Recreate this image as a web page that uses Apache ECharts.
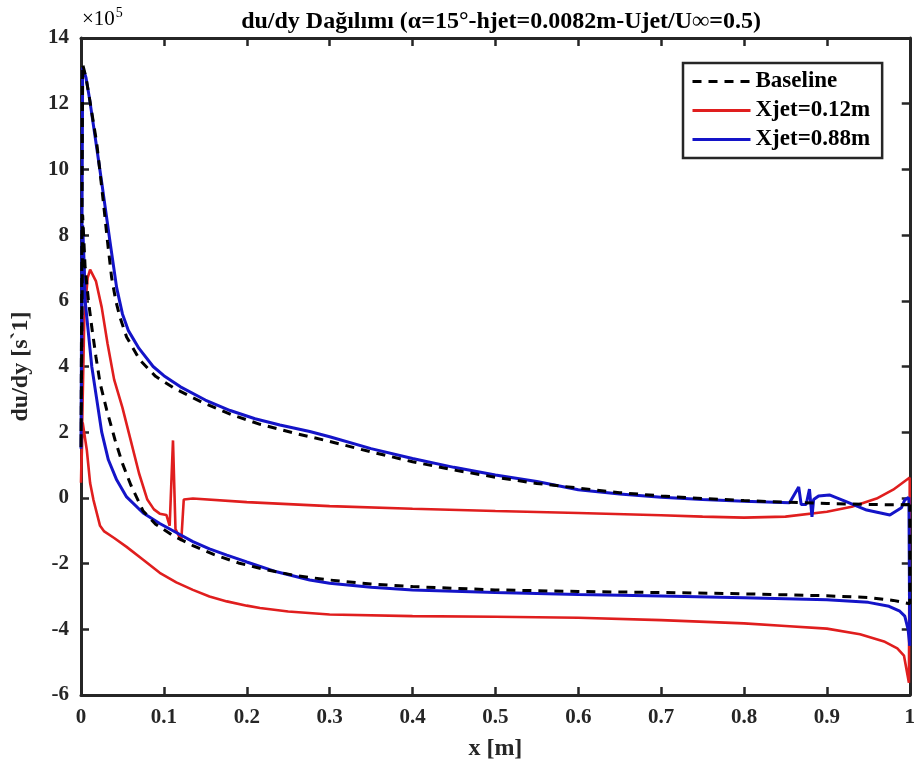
<!DOCTYPE html>
<html>
<head>
<meta charset="utf-8">
<script src="https://cdn.jsdelivr.net/npm/echarts@6/dist/echarts.min.js"></script>
<style>
html,body{margin:0;padding:0;background:#fff;}
#chart{width:918px;height:772px;}
</style>
</head>
<body>
<div id="chart"></div>
<script>
// ---------- data (x in m, du/dy in units of 1e5 s^-1) ----------
var seriesNames = ['Baseline', 'Xjet=0.12m', 'Xjet=0.88m'];
var xTicks = [0, 0.1, 0.2, 0.3, 0.4, 0.5, 0.6, 0.7, 0.8, 0.9, 1];
var yTicks = [-6, -4, -2, 0, 2, 4, 6, 8, 10, 12, 14];

// Baseline
var baseUpperX = [0, 0.002, 0.006, 0.01, 0.019, 0.023, 0.027, 0.032, 0.037, 0.042, 0.047, 0.055, 0.071, 0.09, 0.113, 0.147, 0.183, 0.216, 0.256, 0.3, 0.35, 0.4, 0.45, 0.5, 0.55, 0.6, 0.65, 0.7, 0.75, 0.8, 0.85, 0.9, 0.95, 0.98, 1.0];
var baseUpperY = [1.5, 13.2, 12.8, 12.2, 10.8, 9.9, 9.0, 7.8, 6.7, 6.0, 5.5, 4.9, 4.2, 3.7, 3.33, 2.9, 2.52, 2.24, 1.98, 1.72, 1.4, 1.1, 0.85, 0.63, 0.44, 0.3, 0.16, 0.06, -0.02, -0.08, -0.13, -0.17, -0.2, -0.21, -0.2];
var baseLowerX = [0, 0.002, 0.005, 0.009, 0.013, 0.018, 0.023, 0.031, 0.041, 0.05, 0.06, 0.075, 0.09, 0.111, 0.135, 0.16, 0.19, 0.22, 0.26, 0.3, 0.35, 0.4, 0.5, 0.6, 0.7, 0.8, 0.9, 0.95, 0.98, 1.0];
var baseLowerY = [1.5, 8.6, 7.0, 6.0, 5.2, 4.3, 3.5, 2.68, 1.77, 1.05, 0.4, -0.4, -0.8, -1.15, -1.45, -1.72, -1.98, -2.17, -2.37, -2.5, -2.62, -2.7, -2.8, -2.85, -2.88, -2.92, -2.98, -3.03, -3.12, -3.22];

// Xjet = 0.12 m
var jet12UpperX = [0, 0.004, 0.008, 0.011, 0.018, 0.025, 0.032, 0.04, 0.05, 0.06, 0.07, 0.08, 0.088, 0.095, 0.103, 0.107, 0.111, 0.114, 0.121, 0.124, 0.135, 0.2, 0.3, 0.4, 0.5, 0.6, 0.7, 0.75, 0.8, 0.85, 0.9, 0.93, 0.96, 0.98, 1.0];
var jet12UpperY = [0.46, 5.5, 6.7, 6.95, 6.6, 5.8, 4.7, 3.6, 2.75, 1.75, 0.75, -0.05, -0.35, -0.48, -0.52, -0.85, 1.75, -0.95, -1.3, -0.05, -0.02, -0.13, -0.25, -0.33, -0.4, -0.46, -0.53, -0.57, -0.6, -0.57, -0.42, -0.27, -0.02, 0.25, 0.62];
var jet12LowerX = [0, 0.002, 0.007, 0.011, 0.015, 0.023, 0.028, 0.04, 0.055, 0.075, 0.095, 0.115, 0.135, 0.155, 0.176, 0.2, 0.216, 0.25, 0.3, 0.4, 0.5, 0.6, 0.7, 0.8, 0.85, 0.9, 0.94, 0.97, 0.985, 0.993, 0.999];
var jet12LowerY = [0.46, 2.3, 1.46, 0.45, -0.06, -0.85, -1.02, -1.22, -1.49, -1.88, -2.28, -2.57, -2.8, -3.0, -3.15, -3.28, -3.35, -3.46, -3.55, -3.6, -3.62, -3.65, -3.72, -3.82, -3.9, -3.98, -4.15, -4.38, -4.58, -4.8, -5.63];

// Xjet = 0.88 m
var jet88UpperX = [0, 0.002, 0.006, 0.01, 0.017, 0.025, 0.035, 0.043, 0.05, 0.057, 0.07, 0.087, 0.1, 0.12, 0.15, 0.18, 0.21, 0.24, 0.276, 0.3, 0.35, 0.4, 0.45, 0.5, 0.55, 0.6, 0.65, 0.7, 0.75, 0.8, 0.855, 0.866, 0.869, 0.875, 0.879, 0.882, 0.884, 0.89, 0.903, 0.924, 0.948, 0.976, 0.99, 0.994, 0.999];
var jet88UpperY = [1.5, 13.1, 12.8, 12.2, 11.0, 9.6, 7.8, 6.4, 5.6, 5.1, 4.55, 4.0, 3.72, 3.38, 2.98, 2.66, 2.41, 2.22, 2.02, 1.86, 1.5, 1.2, 0.93, 0.7, 0.5, 0.25, 0.12, 0.02, -0.05, -0.1, -0.15, 0.33, -0.2, -0.2, 0.27, -0.58, -0.05, 0.06, 0.09, -0.12, -0.37, -0.52, -0.3, -0.06, 0.02];
var jet88LowerX = [0, 0.002, 0.004, 0.005, 0.009, 0.013, 0.019, 0.025, 0.033, 0.043, 0.055, 0.075, 0.095, 0.116, 0.135, 0.155, 0.176, 0.2, 0.236, 0.276, 0.3, 0.35, 0.4, 0.5, 0.6, 0.7, 0.8, 0.9, 0.95, 0.975, 0.988, 0.994, 0.998, 1.0];
var jet88LowerY = [1.5, 8.3, 7.0, 6.0, 5.0, 4.0, 3.0, 2.0, 1.16, 0.55, 0.03, -0.46, -0.78, -1.07, -1.33, -1.55, -1.74, -1.95, -2.25, -2.5, -2.6, -2.72, -2.8, -2.88, -2.94, -2.99, -3.04, -3.1, -3.18, -3.3, -3.45, -3.6, -4.0, -4.5];

// ---------- build closed loops: upper (TE -> LE), lower (LE -> TE), close ----------
function loop(ux, uy, lx, ly) {
  var d = [];
  for (var i = ux.length - 1; i >= 0; i--) d.push([ux[i], uy[i]]);
  for (var j = 0; j < lx.length; j++) d.push([lx[j], ly[j]]);
  d.push([ux[ux.length - 1], uy[uy.length - 1]]);
  return d;
}

var FONT = '"Liberation Serif", "Times New Roman", serif';
var AX = '#262626';

var chart = echarts.init(document.getElementById('chart'), null, {renderer: 'canvas'});

var commonX = {
  type: 'value', min: xTicks[0], max: xTicks[xTicks.length - 1], interval: 0.1,
  splitLine: {show: false},
  axisLine: {show: true, onZero: false, lineStyle: {color: AX, width: 3}},
  axisTick: {show: true, inside: true, length: 8, lineStyle: {color: AX, width: 2.5}}
};
var commonY = {
  type: 'value', min: yTicks[0], max: yTicks[yTicks.length - 1], interval: 2,
  splitLine: {show: false},
  axisLine: {show: true, onZero: false, lineStyle: {color: AX, width: 3}},
  axisTick: {show: true, inside: true, length: 8, lineStyle: {color: AX, width: 2.5}}
};

var option = {
  animation: false,
  backgroundColor: '#fff',
  title: {
    text: 'du/dy Dağılımı (α=15°-hjet=0.0082m-Ujet/U∞=0.5)',
    left: 496, top: 5, textAlign: 'center',
    textStyle: {fontFamily: FONT, fontWeight: 'bold', fontSize: 24, color: '#000'}
  },
  grid: {left: 81, right: 8, top: 38, bottom: 77, containLabel: false},
  legend: {
    orient: 'vertical', left: 683, top: 63,
    padding: [7, 12, 7, 8], itemGap: 6,
    itemWidth: 58, itemHeight: 14,
    borderColor: AX, borderWidth: 2.5, backgroundColor: '#fff',
    itemStyle: {opacity: 0},
    lineStyle: {width: 3},
    textStyle: {fontFamily: FONT, fontWeight: 'bold', fontSize: 23, color: '#000'},
    data: seriesNames
  },
  xAxis: [
    Object.assign({}, commonX, {
      position: 'bottom',
      name: 'x [m]', nameLocation: 'middle', nameGap: 42,
      nameTextStyle: {fontFamily: FONT, fontWeight: 'bold', fontSize: 24, color: AX},
      axisLabel: {show: true, margin: 12, fontFamily: FONT, fontWeight: 'bold', fontSize: 21, color: AX,
        formatter: function (v) { return String(+v.toFixed(1)); }}
    }),
    Object.assign({}, commonX, {position: 'top', axisLabel: {show: false}})
  ],
  yAxis: [
    Object.assign({}, commonY, {
      position: 'left',
      name: 'du/dy [s`1]', nameLocation: 'middle', nameGap: 48,
      nameTextStyle: {fontFamily: FONT, fontWeight: 'bold', fontSize: 24, color: AX},
      axisLabel: {show: true, margin: 12, fontFamily: FONT, fontWeight: 'bold', fontSize: 21, color: AX}
    }),
    Object.assign({}, commonY, {position: 'right', axisLabel: {show: false}})
  ],
  graphic: [{
    type: 'text', left: 82, top: 6, z: 10,
    style: {
      text: '{a|×10}{b|5}',
      rich: {
        a: {fontFamily: FONT, fontSize: 21, color: AX, verticalAlign: 'bottom'},
        b: {fontFamily: FONT, fontSize: 14, color: AX, verticalAlign: 'top', padding: [0, 0, 10, 1]}
      }
    }
  }],
  series: [
    {
      name: seriesNames[0], type: 'line', xAxisIndex: 0, yAxisIndex: 0,
      data: loop(baseUpperX, baseUpperY, baseLowerX, baseLowerY),
      symbol: 'none', showSymbol: false, clip: false, z: 4,
      lineStyle: {color: '#000', width: 3, type: [9, 7]},
      itemStyle: {color: '#000'}
    },
    {
      name: seriesNames[1], type: 'line', xAxisIndex: 0, yAxisIndex: 0,
      data: loop(jet12UpperX, jet12UpperY, jet12LowerX, jet12LowerY),
      symbol: 'none', showSymbol: false, clip: false, z: 2,
      lineStyle: {color: '#e01e1e', width: 2.6},
      itemStyle: {color: '#e01e1e'}
    },
    {
      name: seriesNames[2], type: 'line', xAxisIndex: 0, yAxisIndex: 0,
      data: loop(jet88UpperX, jet88UpperY, jet88LowerX, jet88LowerY),
      symbol: 'none', showSymbol: false, clip: false, z: 3,
      lineStyle: {color: '#1414c8', width: 3},
      itemStyle: {color: '#1414c8'}
    }
  ]
};
chart.setOption(option);
</script>
</body>
</html>
